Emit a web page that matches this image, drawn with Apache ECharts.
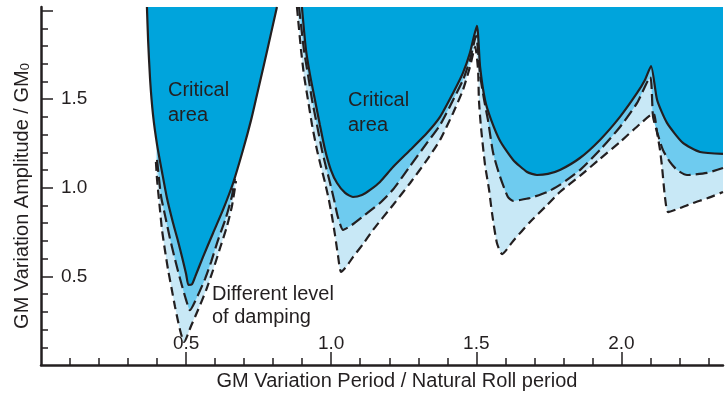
<!DOCTYPE html>
<html>
<head>
<meta charset="utf-8">
<script src="https://cdn.jsdelivr.net/npm/echarts@6.0.0/dist/echarts.min.js"></script>
<style>
  html, body { margin: 0; padding: 0; background: #fff; }
  #chart { width: 727px; height: 394px; }
</style>
</head>
<body>
<div id="chart"></div>
<script>
// 第一个舌形区域 (around 0.5)
const solidLeft = [
  [0.365, 2.02], [0.369, 1.834], [0.376, 1.608], [0.386, 1.411], [0.400, 1.242], [0.417, 1.089],
  [0.434, 0.942], [0.455, 0.801], [0.472, 0.700], [0.486, 0.609], [0.500, 0.514], [0.508, 0.452],
  [0.520, 0.455], [0.531, 0.497], [0.558, 0.609], [0.593, 0.745], [0.627, 0.875], [0.662, 1.027],
  [0.696, 1.213], [0.724, 1.383], [0.744, 1.524], [0.768, 1.693], [0.793, 1.874], [0.813, 2.02]
];
const mediumLeft = [
  [0.400, 1.157], [0.407, 1.044], [0.414, 0.948], [0.427, 0.847], [0.444, 0.717], [0.458, 0.621],
  [0.472, 0.530], [0.486, 0.446], [0.500, 0.367], [0.513, 0.310], [0.541, 0.395], [0.565, 0.485],
  [0.586, 0.581], [0.610, 0.705], [0.637, 0.830], [0.658, 0.954], [0.668, 1.050]
];
const outerLeft = [
  [0.396, 1.146], [0.400, 1.044], [0.410, 0.875], [0.417, 0.762], [0.427, 0.649], [0.438, 0.536],
  [0.451, 0.423], [0.462, 0.327], [0.479, 0.198], [0.493, 0.130], [0.517, 0.220], [0.541, 0.310],
  [0.569, 0.423], [0.593, 0.536], [0.617, 0.660], [0.641, 0.784], [0.658, 0.897], [0.672, 1.038]
];

// 右侧区域 (1.0 ~ 2.35)
const solidRight = [
  [0.899, 2.02], [0.913, 1.778], [0.927, 1.637], [0.944, 1.495], [0.961, 1.354], [0.979, 1.213],
  [0.999, 1.100], [1.020, 1.027], [1.048, 0.971], [1.075, 0.948], [1.106, 0.959], [1.134, 0.988],
  [1.168, 1.033], [1.213, 1.117], [1.272, 1.213], [1.330, 1.309], [1.375, 1.400], [1.420, 1.535],
  [1.454, 1.648], [1.478, 1.761], [1.502, 1.913], [1.513, 1.682], [1.530, 1.495], [1.551, 1.383],
  [1.582, 1.264], [1.627, 1.157], [1.675, 1.089], [1.709, 1.072], [1.747, 1.078], [1.788, 1.100],
  [1.857, 1.168], [1.926, 1.270], [1.995, 1.400], [2.054, 1.535], [2.081, 1.608], [2.102, 1.687],
  [2.123, 1.495], [2.157, 1.366], [2.212, 1.253], [2.271, 1.202], [2.350, 1.191]
];
const mediumRight = [
  [0.889, 2.02], [0.906, 1.778], [0.920, 1.637], [0.934, 1.495], [0.951, 1.354], [0.968, 1.213],
  [0.982, 1.117], [0.996, 1.027], [1.010, 0.931], [1.023, 0.835], [1.041, 0.762], [1.071, 0.790],
  [1.116, 0.847], [1.168, 0.914], [1.213, 0.990], [1.272, 1.123], [1.330, 1.253], [1.375, 1.354],
  [1.420, 1.495], [1.454, 1.608], [1.478, 1.721], [1.499, 1.857], [1.513, 1.637], [1.527, 1.495],
  [1.540, 1.383], [1.558, 1.196], [1.582, 1.061], [1.609, 0.948], [1.627, 0.926], [1.651, 0.931],
  [1.685, 0.942], [1.744, 0.976], [1.788, 1.016], [1.857, 1.100], [1.926, 1.213], [1.995, 1.343],
  [2.054, 1.479], [2.099, 1.625], [2.109, 1.400], [2.126, 1.298], [2.143, 1.213], [2.167, 1.146],
  [2.192, 1.100], [2.226, 1.072], [2.295, 1.084], [2.350, 1.112]
];
const outerRight = [
  [0.882, 2.02], [0.896, 1.778], [0.906, 1.637], [0.920, 1.495], [0.934, 1.354], [0.951, 1.213],
  [0.965, 1.117], [0.979, 1.027], [0.992, 0.931], [1.003, 0.835], [1.013, 0.734], [1.023, 0.621],
  [1.034, 0.525], [1.054, 0.559], [1.075, 0.609], [1.110, 0.683], [1.144, 0.762], [1.213, 0.903],
  [1.272, 1.027], [1.330, 1.157], [1.375, 1.270], [1.420, 1.422], [1.454, 1.552], [1.478, 1.682],
  [1.496, 1.795], [1.506, 1.665], [1.509, 1.495], [1.516, 1.343], [1.530, 1.129], [1.544, 0.988],
  [1.554, 0.858], [1.571, 0.688], [1.589, 0.626], [1.627, 0.700], [1.685, 0.807], [1.744, 0.903],
  [1.788, 0.976], [1.857, 1.067], [1.926, 1.163], [1.995, 1.258], [2.064, 1.360], [2.110, 1.420],
  [2.123, 1.309], [2.133, 1.213], [2.140, 1.117], [2.150, 0.948], [2.161, 0.863], [2.202, 0.886],
  [2.247, 0.914], [2.298, 0.942], [2.350, 0.976]
];

// 刻度
const xLabels = [0.5, 1.0, 1.5, 2.0];
const xMajorTicks = [0.5, 1.0, 1.5, 2.0];
const xMinorTicks = [0.1, 0.2, 0.3, 0.4, 0.6, 0.7, 0.8, 0.9, 1.1, 1.2, 1.3, 1.4, 1.6, 1.7, 1.8, 1.9, 2.1, 2.2, 2.3];
const yLabels = [0.5, 1.0, 1.5];
const yMajorTicks = [0.5, 1.0, 1.5, 2.0];
const yMinorTicks = [0.1, 0.2, 0.3, 0.4, 0.6, 0.7, 0.8, 0.9, 1.1, 1.2, 1.3, 1.4, 1.6, 1.7, 1.8, 1.9];

const INK = '#231f20';
const FONT = "'Liberation Sans', Arial, Helvetica, sans-serif";
const fills = { solid: '#00a4dc', medium: '#6ecbef', outer: '#c8e8f6' };
const dashes = { solid: 'solid', medium: [12, 5], outer: [9, 5] };

const curves = [
    ['outer', outerLeft], ['outer', outerRight],
    ['medium', mediumLeft], ['medium', mediumRight],
    ['solid', solidLeft], ['solid', solidRight],
];

const series = [];
// 填充 (fill up to the top of the axis)
curves.forEach(([kind, data]) => {
    series.push({
        type: 'line',
        data: data,
        smooth: 0.2,
        symbol: 'none',
        silent: true,
        z: 2,
        lineStyle: { width: 0, opacity: 0 },
        areaStyle: { origin: 'end', color: fills[kind], opacity: 1 },
    });
});
// 边界线
curves.forEach(([kind, data]) => {
    series.push({
        type: 'line',
        data: data,
        smooth: 0.2,
        symbol: 'none',
        silent: true,
        z: 3,
        lineStyle: { color: INK, width: 2.2, type: dashes[kind] },
    });
});

const xBase = { type: 'value', min: 0, max: 2.35, position: 'bottom', splitLine: { show: false } };
const yBase = { type: 'value', min: 0, max: 2.02, position: 'left', splitLine: { show: false } };

const myChart = echarts.init(document.getElementById('chart'));
myChart.setOption({
    animation: false,
    grid: { left: 41, right: 4, top: 7, bottom: 29, containLabel: false, outerBoundsMode: 'none' },
    xAxis: [
        {
            ...xBase,
            name: 'GM Variation Period / Natural Roll period',
            nameLocation: 'middle',
            nameGap: 6,
            nameTextStyle: { color: INK, fontSize: 20, fontFamily: FONT, padding: [0, 0, 0, 30], verticalAlign: 'top' },
            axisLine: { show: true, onZero: false, lineStyle: { color: INK, width: 2.5 } },
            axisTick: { show: true, inside: true, length: 13, customValues: xMajorTicks, lineStyle: { color: INK, width: 1.5 } },
            axisLabel: {
                inside: true,
                margin: 12,
                customValues: xLabels,
                formatter: (v) => v.toFixed(1),
                color: INK,
                fontSize: 19,
                fontFamily: FONT,
            },
        },
        {
            ...xBase,
            axisLine: { show: false, onZero: false },
            axisTick: { show: true, inside: true, length: 7, customValues: xMinorTicks, lineStyle: { color: INK, width: 1.5 } },
            axisLabel: { show: false },
        },
    ],
    yAxis: [
        {
            ...yBase,
            name: 'GM Variation Amplitude / GM{s|0}',
            nameLocation: 'middle',
            nameGap: 9,
            nameTextStyle: {
                color: INK,
                fontSize: 20,
                fontFamily: FONT,
                padding: [0, 20, 0, 0],
                rich: { s: { fontSize: 13, fontFamily: FONT, color: INK, padding: [7, 0, 0, 0] } },
            },
            axisLine: { show: true, onZero: false, lineStyle: { color: INK, width: 2.5 } },
            axisTick: { show: true, inside: true, length: 12, customValues: yMajorTicks, lineStyle: { color: INK, width: 1.5 } },
            axisLabel: {
                inside: true,
                margin: 20,
                customValues: yLabels,
                formatter: (v) => v.toFixed(1),
                color: INK,
                fontSize: 19,
                fontFamily: FONT,
            },
        },
        {
            ...yBase,
            axisLine: { show: false, onZero: false },
            axisTick: { show: true, inside: true, length: 7, customValues: yMinorTicks, lineStyle: { color: INK, width: 1.5 } },
            axisLabel: { show: false },
        },
    ],
    series: series,
    graphic: [
        {
            type: 'text', left: 168, top: 78, z: 10,
            style: { text: 'Critical\narea', fontSize: 20, fontFamily: FONT, lineHeight: 25, fill: INK },
        },
        {
            type: 'text', left: 348, top: 88, z: 10,
            style: { text: 'Critical\narea', fontSize: 20, fontFamily: FONT, lineHeight: 25, fill: INK },
        },
        {
            type: 'text', left: 212, top: 283, z: 10,
            style: { text: 'Different level\nof damping', fontSize: 20, fontFamily: FONT, lineHeight: 23, fill: INK },
        },
    ],
});
</script>
</body>
</html>
